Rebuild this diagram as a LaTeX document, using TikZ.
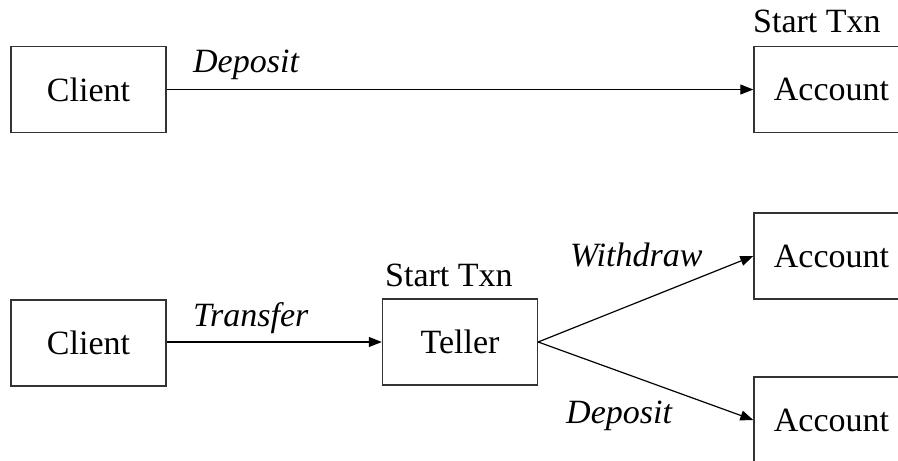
\documentclass[tikz,border=0pt]{standalone}
\usepackage{fontspec}
\setmainfont{Liberation Serif}
\usetikzlibrary{arrows.meta}
\begin{document}
\begin{tikzpicture}[x=1pt,y=-1pt,
  every node/.style={font=\fontsize{34}{40}\selectfont},
  boxnode/.style={draw=black!80, line width=1.4pt, minimum width=155pt, minimum height=86pt, inner sep=0pt},
  lbl/.style={anchor=base west, inner sep=0pt},
  conn/.style={line width=1.2pt, -{Triangle[length=13pt,width=10pt]}}]
\useasboundingbox (0,0) rectangle (898,461);
\clip (0,0) rectangle (898,461);
\fill[white] (0,0) rectangle (898,461);
% top row
\node[boxnode] (c1) at (88.5,89.5) {Client};
\node[boxnode] (a1) at (831.5,89.5) {Account};
\node[lbl] (s1) at (753,32) {Start Txn};
\draw[conn] (c1.east) -- (a1.west);
\node[lbl] (d1) at (193,72) {\itshape Deposit};
% bottom row
\node[boxnode] (c2) at (88.5,343) {Client};
\node[boxnode] (t) at (460,342) {Teller};
\node[lbl] (s2) at (385,286) {Start Txn};
\node[boxnode] (a2) at (831.5,256) {Account};
\node[boxnode] (a3) at (831.5,420) {Account};
\draw[conn] (c2.east |- t.west) -- (t.west);
\node[lbl] (tr) at (193,326) {\itshape Transfer};
\draw[conn] (t.east) -- (a2.west);
\draw[conn] (t.east) -- (a3.west);
\node[lbl] (w) at (570,266) {\itshape Withdraw};
\node[lbl] (d2) at (566,423) {\itshape Deposit};
\end{tikzpicture}
\end{document}
